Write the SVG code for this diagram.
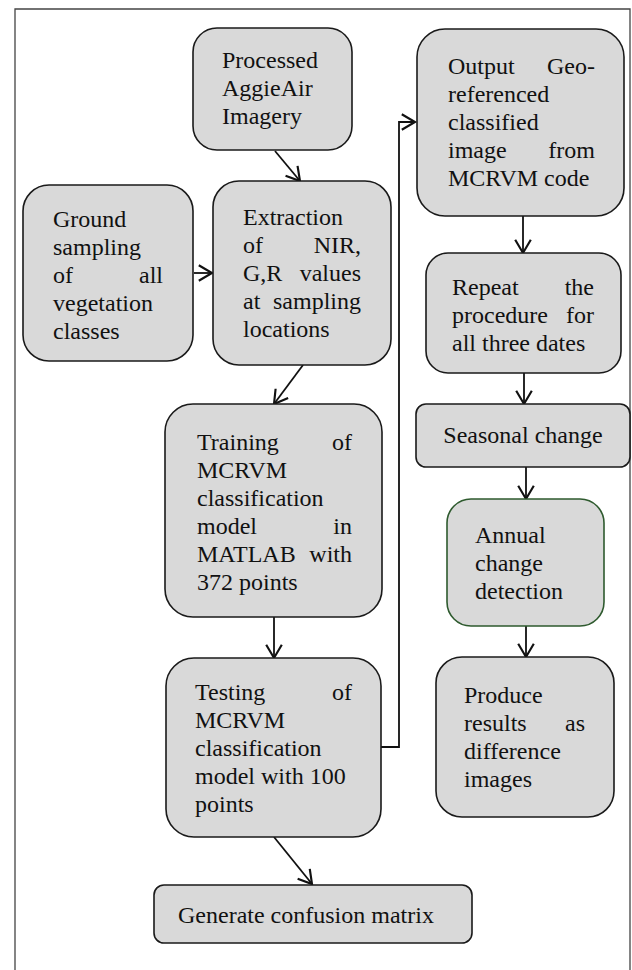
<svg xmlns="http://www.w3.org/2000/svg" width="632" height="970" viewBox="0 0 632 970">
<style>
.box{fill:#d9d9d9;stroke:#1a1a1a;stroke-width:1.6}
.green{stroke:#2e5a2e}
.t{font-family:"Liberation Serif","Times New Roman",serif;font-size:24px;fill:#111}
.e{text-anchor:end}
.m{text-anchor:middle}
.c{fill:none;stroke:#111;stroke-width:1.8}
</style>
<defs>
<marker id="ah" markerUnits="userSpaceOnUse" markerWidth="24" markerHeight="24" viewBox="-14 -10 16 20" refX="0" refY="0" orient="auto">
<path d="M-11,-6.5 L0,0 L-11,6.5" fill="none" stroke="#111" stroke-width="1.8"/>
</marker>
</defs>
<rect x="0" y="0" width="632" height="970" fill="#fff"/>
<path d="M15,975 V9 H630 V975" fill="none" stroke="#444" stroke-width="1.3"/>

<g id="connectors">
<line class="c" x1="275" y1="151" x2="300" y2="181" marker-end="url(#ah)"/>
<line class="c" x1="194" y1="273" x2="212" y2="273" marker-end="url(#ah)"/>
<line class="c" x1="303" y1="365" x2="274" y2="404" marker-end="url(#ah)"/>
<line class="c" x1="274" y1="617" x2="274" y2="658" marker-end="url(#ah)"/>
<line class="c" x1="274" y1="837" x2="312" y2="884" marker-end="url(#ah)"/>
<polyline class="c" points="381,747 399,747 399,122 415,122" marker-end="url(#ah)"/>
<line class="c" x1="523" y1="216" x2="523" y2="253" marker-end="url(#ah)"/>
<line class="c" x1="524" y1="373" x2="524" y2="404" marker-end="url(#ah)"/>
<line class="c" x1="526" y1="467" x2="526" y2="499" marker-end="url(#ah)"/>
<line class="c" x1="526" y1="626" x2="526" y2="657" marker-end="url(#ah)"/>
</g>

<g id="processed">
<rect class="box" x="193" y="28" width="159" height="122" rx="24"/>
<text class="t" x="222" y="68">Processed</text>
<text class="t" x="222" y="96">AggieAir</text>
<text class="t" x="222" y="124">Imagery</text>
</g>

<g id="ground">
<rect class="box" x="23" y="185" width="170" height="176" rx="26"/>
<text class="t" x="53" y="227">Ground</text>
<text class="t" x="53" y="255">sampling</text>
<text class="t" x="53" y="283">of</text><text class="t e" x="163" y="283">all</text>
<text class="t" x="53" y="311">vegetation</text>
<text class="t" x="53" y="339">classes</text>
</g>

<g id="extraction">
<rect class="box" x="213" y="181" width="178" height="184" rx="26"/>
<text class="t" x="243" y="225">Extraction</text>
<text class="t" x="243" y="253">of</text><text class="t e" x="361" y="253">NIR,</text>
<text class="t" x="243" y="281">G,R</text><text class="t e" x="361" y="281">values</text>
<text class="t" x="243" y="309">at</text><text class="t e" x="361" y="309">sampling</text>
<text class="t" x="243" y="337">locations</text>
</g>

<g id="training">
<rect class="box" x="165" y="404" width="217" height="213" rx="28"/>
<text class="t" x="197" y="450">Training</text><text class="t e" x="352" y="450">of</text>
<text class="t" x="197" y="478">MCRVM</text>
<text class="t" x="197" y="506">classification</text>
<text class="t" x="197" y="534">model</text><text class="t e" x="352" y="534">in</text>
<text class="t" x="197" y="562">MATLAB</text><text class="t e" x="352" y="562">with</text>
<text class="t" x="197" y="590">372 points</text>
</g>

<g id="testing">
<rect class="box" x="166" y="658" width="215" height="179" rx="28"/>
<text class="t" x="195" y="700">Testing</text><text class="t e" x="352" y="700">of</text>
<text class="t" x="195" y="728">MCRVM</text>
<text class="t" x="195" y="756">classification</text>
<text class="t" x="195" y="784">model with 100</text>
<text class="t" x="195" y="812">points</text>
</g>

<g id="generate">
<rect class="box" x="154" y="885" width="318" height="58" rx="10"/>
<text class="t" x="178" y="923">Generate confusion matrix</text>
</g>

<g id="output">
<rect class="box" x="417" y="29" width="207" height="187" rx="28"/>
<text class="t" x="448" y="74">Output</text><text class="t e" x="595" y="74">Geo-</text>
<text class="t" x="448" y="102">referenced</text>
<text class="t" x="448" y="130">classified</text>
<text class="t" x="448" y="158">image</text><text class="t e" x="595" y="158">from</text>
<text class="t" x="448" y="186">MCRVM code</text>
</g>

<g id="repeat">
<rect class="box" x="426" y="253" width="195" height="120" rx="22"/>
<text class="t" x="452" y="295">Repeat</text><text class="t e" x="594" y="295">the</text>
<text class="t" x="452" y="323">procedure</text><text class="t e" x="594" y="323">for</text>
<text class="t" x="452" y="351">all three dates</text>
</g>

<g id="seasonal">
<rect class="box" x="416" y="404" width="214" height="63" rx="10"/>
<text class="t m" x="523" y="443">Seasonal change</text>
</g>

<g id="annual">
<rect class="box green" x="447" y="499" width="157" height="127" rx="24"/>
<text class="t" x="475" y="543">Annual</text>
<text class="t" x="475" y="571">change</text>
<text class="t" x="475" y="599">detection</text>
</g>

<g id="produce">
<rect class="box" x="436" y="657" width="178" height="160" rx="26"/>
<text class="t" x="464" y="703">Produce</text>
<text class="t" x="464" y="731">results</text><text class="t e" x="585" y="731">as</text>
<text class="t" x="464" y="759">difference</text>
<text class="t" x="464" y="787">images</text>
</g>
</svg>
